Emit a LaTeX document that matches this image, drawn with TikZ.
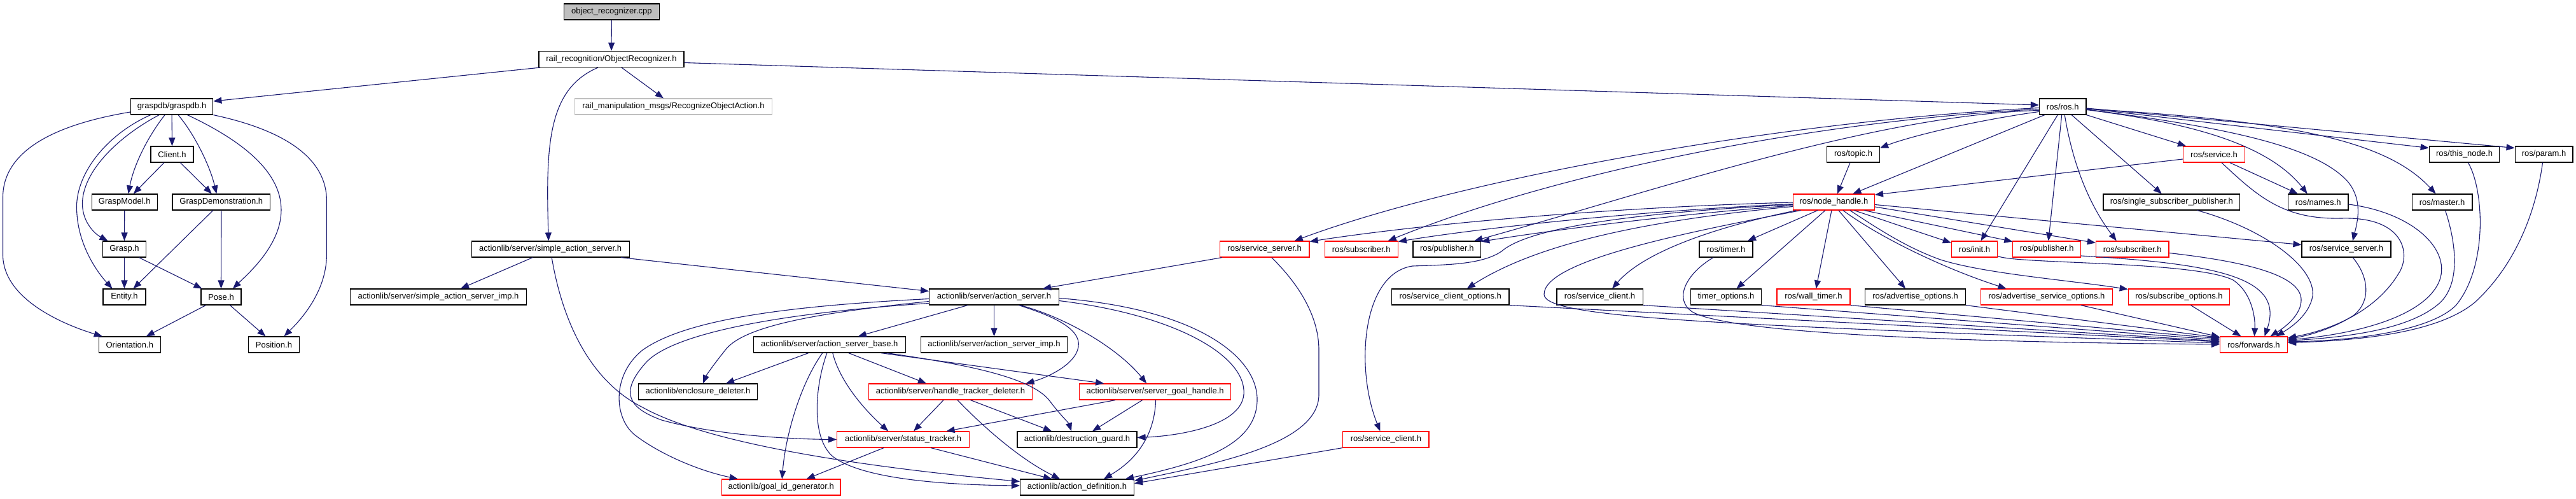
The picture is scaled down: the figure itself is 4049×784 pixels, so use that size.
\documentclass[tikz,border=0pt]{standalone}
\usepackage{fontspec}
\setmainfont{Liberation Sans}
\usetikzlibrary{arrows.meta}
\definecolor{edgec}{HTML}{191970}
\definecolor{redb}{HTML}{FF0000}
\definecolor{grayb}{HTML}{BFBFBF}
\tikzset{
 nb/.style={draw=black, fill=white, line width=1.2pt, minimum height=25pt, inner sep=0pt, font=\fontsize{13}{15}\selectfont, text=black},
 nr/.style={nb, draw=redb},
 ng/.style={nb, draw=grayb},
 nroot/.style={nb, fill=grayb},
 edg/.style={draw=edgec, line width=1.1pt, -{Triangle[length=13pt,width=10pt]}},
}
\begin{document}
\begin{tikzpicture}[x=1pt,y=-1pt]
\fill[white] (0,0) rectangle (4049,784);
\useasboundingbox (0,0) rectangle (4049,784);
% nodes
\node[nroot, minimum width=150pt] (orc) at (961.4,18.5) {object\_recognizer.cpp};
\node[nb, minimum width=228pt] (orh) at (961,93) {rail\_recognition/ObjectRecognizer.h};
\node[nb, minimum width=129.4pt] (gdb) at (270.1,167.5) {graspdb/graspdb.h};
\node[ng, minimum width=310.7pt] (roa) at (1058.5,167.5) {rail\_manipulation\_msgs/RecognizeObjectAction.h};
\node[nb, minimum width=73.6pt] (ros) at (3242.2,167.5) {ros/ros.h};
\node[nb, minimum width=67pt] (client) at (270.5,242.5) {Client.h};
\node[nb, minimum width=103pt] (gmodel) at (195.8,317.5) {GraspModel.h};
\node[nb, minimum width=153.6pt] (gdemo) at (347.8,317.5) {GraspDemonstration.h};
\node[nb, minimum width=68.7pt] (grasp) at (195.5,391.5) {Grasp.h};
\node[nb, minimum width=67pt] (entity) at (195.5,466.5) {Entity.h};
\node[nb, minimum width=63pt] (pose) at (347.5,466.5) {Pose.h};
\node[nb, minimum width=96.8pt] (orient) at (203.8,541.5) {Orientation.h};
\node[nb, minimum width=80pt] (position) at (430.5,541.5) {Position.h};
\node[nb, minimum width=248.2pt] (sas) at (865.2,391.5) {actionlib/server/simple\_action\_server.h};
\node[nb, minimum width=276.3pt] (sasimp) at (689,466.5) {actionlib/server/simple\_action\_server\_imp.h};
\node[nb, minimum width=203.6pt] (as) at (1562.5,466.5) {actionlib/server/action\_server.h};
\node[nb, minimum width=238.8pt] (asb) at (1303.8,541.5) {actionlib/server/action\_server\_base.h};
\node[nb, minimum width=230.4pt] (asimp) at (1562.5,541.5) {actionlib/server/action\_server\_imp.h};
\node[nb, minimum width=187pt] (encl) at (1097,615.5) {actionlib/enclosure\_deleter.h};
\node[nr, minimum width=256.3pt] (htd) at (1494,615.5) {actionlib/server/handle\_tracker\_deleter.h};
\node[nr, minimum width=237.5pt] (sgh) at (1815.6,615.5) {actionlib/server/server\_goal\_handle.h};
\node[nr, minimum width=208pt] (st) at (1419.6,690.5) {actionlib/server/status\_tracker.h};
\node[nb, minimum width=188pt] (dg) at (1693,690.5) {actionlib/destruction\_guard.h};
\node[nr, minimum width=186.6pt] (gig) at (1227.7,765.5) {actionlib/goal\_id\_generator.h};
\node[nb, minimum width=179pt] (ad) at (1693,765.5) {actionlib/action\_definition.h};
\node[nr, minimum width=140.6pt] (rss) at (1987.7,391.5) {ros/service\_server.h};
\node[nr, minimum width=115.2pt] (rsub) at (2139.7,391.5) {ros/subscriber.h};
\node[nb, minimum width=106.7pt] (rpub) at (2274.3,391.5) {ros/publisher.h};
\node[nb, minimum width=184.4pt] (rsco) at (2279.7,466.5) {ros/service\_client\_options.h};
\node[nb, minimum width=135.2pt] (rsc) at (2514.5,466.5) {ros/service\_client.h};
\node[nr, minimum width=135.3pt] (rscr) at (2178.4,690.5) {ros/service\_client.h};
\node[nb, minimum width=83pt] (topic) at (2913,242.5) {ros/topic.h};
\node[nr, minimum width=128pt] (nh) at (2882.4,317.5) {ros/node\_handle.h};
\node[nb, minimum width=84pt] (timer) at (2713,391.5) {ros/timer.h};
\node[nb, minimum width=110.7pt] (topt) at (2713,466.5) {timer\_options.h};
\node[nr, minimum width=115pt] (wt) at (2850.5,466.5) {ros/wall\_timer.h};
\node[nb, minimum width=157.6pt] (ao) at (3010.5,466.5) {ros/advertise\_options.h};
\node[nr, minimum width=206.5pt] (aso) at (3217,466.5) {ros/advertise\_service\_options.h};
\node[nr, minimum width=72.3pt] (init) at (3103.5,391.5) {ros/init.h};
\node[nr, minimum width=106.7pt] (pubr) at (3217.2,391.5) {ros/publisher.h};
\node[nr, minimum width=114.7pt] (subr2) at (3351.7,391.5) {ros/subscriber.h};
\node[nr, minimum width=97.3pt] (service) at (3480,242.5) {ros/service.h};
\node[nb, minimum width=110.5pt] (thisnode) at (3873.5,242.5) {ros/this\_node.h};
\node[nb, minimum width=90.7pt] (param) at (3998.5,242.5) {ros/param.h};
\node[nb, minimum width=214.6pt] (ssp) at (3413.3,317.5) {ros/single\_subscriber\_publisher.h};
\node[nb, minimum width=94.3pt] (names) at (3643.7,317.5) {ros/names.h};
\node[nb, minimum width=94.7pt] (master) at (3838.5,317.5) {ros/master.h};
\node[nb, minimum width=140pt] (rss2) at (3688,391.5) {ros/service\_server.h};
\node[nr, minimum width=159.5pt] (subo) at (3425,466.5) {ros/subscribe\_options.h};
\node[nr, minimum width=106pt] (fwd) at (3542.5,541.5) {ros/forwards.h};
% top edges
\draw[edg] (orc.south) -- (orh.north);
\draw[edg] ([xshift=-112pt]orh.south) -- ([yshift=8.5pt]gdb.east);
\draw[edg] ([xshift=16pt]orh.south) -- ([xshift=-15.6pt]roa.north);
\draw[edg] ([xshift=-21pt]orh.south) .. controls (860,140) and (858,230) .. ([xshift=-3pt]sas.north);
\draw[edg] ([yshift=-5.5pt]orh.east) -- ([yshift=2.5pt]ros.west);
% graspdb
\draw[edg] ([yshift=-8.5pt]gdb.west) .. controls (60,200) and (4.5,250) .. (4.5,310) -- (4.5,400) .. controls (4.5,470) and (100,510) .. ([xshift=-43pt]orient.north);
\draw[edg] ([xshift=-33.5pt]gdb.south) .. controls (170,210) and (120.5,270) .. (120.5,325) .. controls (120.5,385) and (155,430) .. ([xshift=-19pt]entity.north);
\draw[edg] ([xshift=-20pt]gdb.south) .. controls (185,215) and (129.5,270) .. (129.5,320) .. controls (129.5,350) and (150,368) .. ([xshift=-26pt]grasp.north);
\draw[edg] ([xshift=-11pt]gdb.south) .. controls (232,215) and (210,260) .. ([xshift=6pt]gmodel.north);
\draw[edg] (gdb.south) -- (client.north);
\draw[edg] ([xshift=10pt]gdb.south) .. controls (305,210) and (330,260) .. ([xshift=-7.5pt]gdemo.north);
\draw[edg] ([xshift=24.5pt]gdb.south) .. controls (400,230) and (442,280) .. (442,330) .. controls (442,385) and (390,430) .. ([xshift=18.5pt]pose.north);
\draw[edg] (gdb.south east) .. controls (450,205) and (513.4,250) .. (513.4,315) -- (513.4,400) .. controls (513.4,460) and (470,505) .. ([xshift=16pt]position.north);
\draw[edg] ([xshift=-12.5pt]client.south) -- ([xshift=14pt]gmodel.north);
\draw[edg] ([xshift=13pt]client.south) -- ([xshift=-15pt]gdemo.north);
\draw[edg] (gmodel.south) -- (grasp.north);
\draw[edg] ([xshift=-13pt]gdemo.south) -- ([xshift=14pt]entity.north);
\draw[edg] (gdemo.south) -- (pose.north);
\draw[edg] (grasp.south) -- (entity.north);
\draw[edg] ([xshift=23pt]grasp.south) -- ([xshift=-30pt]pose.north);
\draw[edg] ([xshift=-24pt]pose.south) -- ([xshift=26pt]orient.north);
\draw[edg] ([xshift=14pt]pose.south) -- ([xshift=-13pt]position.north);
% simple action server
\draw[edg] ([xshift=-28pt]sas.south) -- ([xshift=35pt]sasimp.north);
\draw[edg] ([xshift=111pt]sas.south) -- ([yshift=9pt]as.west);
\draw[edg] ([xshift=2pt]sas.south) .. controls (885,510) and (930,600) .. (1010,640) .. controls (1100,690) and (1300,728) .. ([yshift=9pt]ad.west);
% action server
\draw[edg] ([yshift=-7pt]as.west) .. controls (1300,490) and (1170,510) .. (1140,550) .. controls (1120,575) and (1110,590) .. ([xshift=8pt]encl.north);
\draw[edg] ([yshift=-3pt]as.west) .. controls (1250,480) and (1080,500) .. (1010,550) .. controls (960,590) and (965,660) .. (1000,685) .. controls (1040,715) and (1100,740) .. ([xshift=-68pt]gig.north);
\draw[edg] ([yshift=-10pt]as.west) .. controls (1250,490) and (1060,520) .. (1015,570) .. controls (975,615) and (985,640) .. (1040,660) .. controls (1130,685) and (1250,690) .. (st.west);
\draw[edg] ([xshift=-41.5pt]as.south) -- ([xshift=45pt]asb.north);
\draw[edg] (as.south) -- (asimp.north);
\draw[edg] ([xshift=39pt]as.south) .. controls (1650,495) and (1700,515) .. (1695,545) .. controls (1690,575) and (1640,595) .. ([xshift=118.5pt]htd.north);
\draw[edg] ([xshift=41pt]as.south) .. controls (1680,500) and (1760,550) .. ([xshift=-13.5pt]sgh.north);
\draw[edg] ([yshift=-6pt]as.east) .. controls (1850,495) and (1960,560) .. (1955,620) .. controls (1950,670) and (1850,685) .. ([yshift=3pt]dg.east);
\draw[edg] ([yshift=-2pt]as.east) .. controls (1880,485) and (1978,560) .. (1976,630) .. controls (1974,695) and (1900,725) .. ([xshift=76pt]ad.north);
% action server base
\draw[edg] ([xshift=-33pt]asb.south) -- ([xshift=44pt]encl.north);
\draw[edg] ([xshift=30pt]asb.south) -- ([xshift=-38pt]htd.north);
\draw[edg] ([xshift=81pt]asb.south) -- ([xshift=-80.5pt]sgh.north);
\draw[edg] ([xshift=90pt]asb.south) .. controls (1500,570) and (1620,590) .. (1650,630) .. controls (1665,650) and (1680,665) .. ([xshift=-9pt]dg.north);
\draw[edg] ([xshift=5pt]asb.south) .. controls (1320,600) and (1360,645) .. ([xshift=-23.5pt]st.north);
\draw[edg] ([xshift=-11pt]asb.south) .. controls (1260,600) and (1235,680) .. ([xshift=1.5pt]gig.north);
\draw[edg] ([xshift=-4pt]asb.south) .. controls (1280,610) and (1275,690) .. (1310,718) .. controls (1360,755) and (1500,762) .. ([yshift=2.5pt]ad.west);
% handle tracker deleter, server goal handle, status tracker
\draw[edg] ([xshift=-11pt]htd.south) -- ([xshift=16.5pt]st.north);
\draw[edg] ([xshift=31.5pt]htd.south) -- ([xshift=-40pt]dg.north);
\draw[edg] ([xshift=11pt]htd.south) .. controls (1540,665) and (1600,720) .. ([xshift=-27pt]ad.north);
\draw[edg] ([xshift=-62.5pt]sgh.south) -- ([xshift=68pt]st.north);
\draw[edg] ([xshift=-20pt]sgh.south) -- ([xshift=24pt]dg.north);
\draw[edg] ([xshift=1pt]sgh.south) .. controls (1815,680) and (1790,720) .. ([xshift=42pt]ad.north);
\draw[edg] ([xshift=-30.5pt]st.south) -- ([xshift=40pt]gig.north);
\draw[edg] ([xshift=43.5pt]st.south) -- ([xshift=-40pt]ad.north);
% service server (red), service client (red)
\draw[edg] ([xshift=-67pt]rss.south) -- ([xshift=76.5pt]as.north);
\draw[edg] ([xshift=11pt]rss.south) .. controls (2045,450) and (2073,500) .. (2073,550) -- (2073,620) .. controls (2073,700) and (1900,730) .. ([yshift=-3pt]ad.north east);
\draw[edg] (rscr.south west) -- ([yshift=6pt]ad.east);
% ros.h
\draw[edg] ([yshift=-8pt]ros.west) .. controls (3100,190) and (3000,215) .. ([yshift=10pt]topic.east);
\draw[edg] ([xshift=-28.5pt]ros.south) -- ([xshift=30pt]nh.north);
\draw[edg] ([xshift=-8pt]ros.south) -- ([xshift=10pt]init.north);
\draw[edg] ([xshift=-1.5pt]ros.south) -- ([xshift=2.5pt]pubr.north);
\draw[edg] ([xshift=3pt]ros.south) .. controls (3260,270) and (3290,330) .. ([xshift=-25pt]subr2.north);
\draw[edg] ([xshift=14pt]ros.south) -- ([xshift=-15.5pt]ssp.north);
\draw[edg] (ros.south east) -- ([xshift=-44pt]service.north);
\draw[edg] ([yshift=-5pt]ros.east) .. controls (3420,190) and (3560,220) .. ([xshift=-17pt]names.north);
\draw[edg] ([yshift=-4.5pt]ros.east) .. controls (3500,200) and (3640,230) .. (3690,285) .. controls (3715,315) and (3705,350) .. ([xshift=10pt]rss2.north);
\draw[edg] ([yshift=-3.5pt]ros.east) .. controls (3600,190) and (3750,220) .. ([xshift=-10pt]master.north);
\draw[edg] ([yshift=-3pt]ros.east) -- ([yshift=10pt]thisnode.west);
\draw[edg] ([yshift=-2.5pt]ros.east) -- ([yshift=10pt]param.west);
\draw[edg] ([yshift=-2pt]ros.west) .. controls (2800,190) and (2300,280) .. ([xshift=47pt]rss.north);
\draw[edg] ([yshift=-4pt]ros.west) .. controls (2850,190) and (2450,270) .. ([xshift=42pt]rsub.north);
\draw[edg] ([yshift=-6pt]ros.west) .. controls (2950,180) and (2600,300) .. ([xshift=43pt]rpub.north);
% node_handle.h
\draw[edg] ([yshift=-0.5pt]nh.west) .. controls (2550,325) and (2250,350) .. ([yshift=12pt]rss.east);
\draw[edg] ([yshift=-3pt]nh.west) .. controls (2600,330) and (2350,355) .. ([yshift=12pt]rsub.east);
\draw[edg] ([yshift=-5.5pt]nh.west) .. controls (2650,335) and (2450,360) .. ([yshift=12pt]rpub.east);
\draw[edg] ([yshift=-4pt]nh.west) .. controls (2550,335) and (2400,360) .. (2360,395) .. controls (2330,415) and (2280,416) .. (2220,418) .. controls (2140,430) and (2130,580) .. ([xshift=-9pt]rscr.north);
\draw[edg] ([yshift=-7pt]nh.west) .. controls (2600,345) and (2420,380) .. ([xshift=26pt]rsco.north);
\draw[edg] ([xshift=-59pt]nh.south) .. controls (2680,360) and (2580,400) .. ([xshift=19.5pt]rsc.north);
\draw[edg] ([xshift=-52pt]nh.south) .. controls (2650,365) and (2425,410) .. (2427,463) .. controls (2430,500) and (2700,510) .. ([yshift=2.5pt]fwd.west);
\draw[edg] ([xshift=-25.5pt]nh.south) -- ([xshift=34pt]timer.north);
\draw[edg] ([xshift=-13.5pt]nh.south) -- ([xshift=16.5pt]topt.north);
\draw[edg] ([xshift=-3.5pt]nh.south) -- ([xshift=4pt]wt.north);
\draw[edg] ([xshift=7.5pt]nh.south) -- ([xshift=-15.5pt]ao.north);
\draw[edg] ([xshift=14.5pt]nh.south) .. controls (2950,370) and (3050,420) .. ([xshift=-63.5pt]aso.north);
\draw[edg] ([xshift=32pt]nh.south) -- ([yshift=10pt]init.west);
\draw[edg] ([xshift=48pt]nh.south) -- ([yshift=12pt]pubr.west);
\draw[edg] ([yshift=-7.5pt]nh.east) -- ([yshift=10pt]subr2.west);
\draw[edg] ([yshift=-4pt]nh.east) -- ([yshift=7pt]rss2.west);
\draw[edg] ([xshift=25.5pt]nh.south) .. controls (2960,365) and (3000,390) .. (3050,408) .. controls (3120,430) and (3250,440) .. ([yshift=12pt]subo.west);
\draw[edg] ([xshift=-5pt]topic.south) -- ([xshift=5.5pt]nh.north);
\draw[edg] ([yshift=-7.5pt]service.west) -- ([yshift=11.5pt]nh.east);
\draw[edg] ([xshift=25pt]service.south) -- ([xshift=-32pt]names.north);
% into forwards.h
\draw[edg] ([xshift=12pt]service.south) .. controls (3550,310) and (3590,345) .. (3680,343) .. controls (3780,340) and (3790,400) .. (3770,430) .. controls (3740,480) and (3680,515) .. ([yshift=10.5pt]fwd.east);
\draw[edg] ([yshift=-3.5pt]names.east) .. controls (3800,335) and (3860,400) .. (3830,450) .. controls (3800,500) and (3700,525) .. ([yshift=7.5pt]fwd.east);
\draw[edg] ([xshift=5pt]master.south) .. controls (3860,380) and (3870,450) .. (3830,480) .. controls (3780,520) and (3680,530) .. ([yshift=6pt]fwd.east);
\draw[edg] ([xshift=6pt]thisnode.south) .. controls (3905,300) and (3910,420) .. (3860,480) .. controls (3820,520) and (3700,535) .. ([yshift=4.5pt]fwd.east);
\draw[edg] ([xshift=-2pt]param.south) .. controls (3985,340) and (3950,420) .. (3890,475) .. controls (3830,525) and (3700,535) .. ([yshift=3pt]fwd.east);
\draw[edg] ([xshift=10pt]rss2.south) .. controls (3720,430) and (3730,470) .. (3700,495) .. controls (3670,515) and (3630,527) .. ([yshift=9pt]fwd.east);
\draw[edg] ([xshift=40.5pt]ssp.south) .. controls (3560,360) and (3640,420) .. (3635,465) .. controls (3630,495) and (3600,515) .. ([xshift=35pt]fwd.north);
\draw[edg] ([yshift=-6pt]subr2.east) .. controls (3520,410) and (3615,430) .. (3617,470) .. controls (3618,495) and (3590,515) .. ([xshift=26pt]fwd.north);
\draw[edg] ([xshift=18.5pt]subo.south) -- ([xshift=-20pt]fwd.north);
\draw[edg] ([yshift=-10.5pt]pubr.east) .. controls (3500,415) and (3590,440) .. ([xshift=17pt]fwd.north);
\draw[edg] ([yshift=-11pt]init.east) .. controls (3170,415) and (3450,410) .. (3510,440) .. controls (3540,460) and (3545,500) .. ([xshift=1pt]fwd.north);
\draw[edg] ([xshift=54pt]aso.south) -- ([yshift=12pt]fwd.west);
\draw[edg] (ao.south east) -- ([yshift=11pt]fwd.west);
\draw[edg] (wt.south east) -- ([yshift=9.5pt]fwd.west);
\draw[edg] (topt.south east) -- ([yshift=7.5pt]fwd.west);
\draw[edg] (rsc.south east) -- ([yshift=5.5pt]fwd.west);
\draw[edg] (rsco.south east) -- ([yshift=4.5pt]fwd.west);
\draw[edg] ([xshift=-20pt]timer.south) .. controls (2650,430) and (2630,470) .. (2660,490) .. controls (2720,525) and (3100,538) .. ([yshift=0.5pt]fwd.west);
\end{tikzpicture}
\end{document}
